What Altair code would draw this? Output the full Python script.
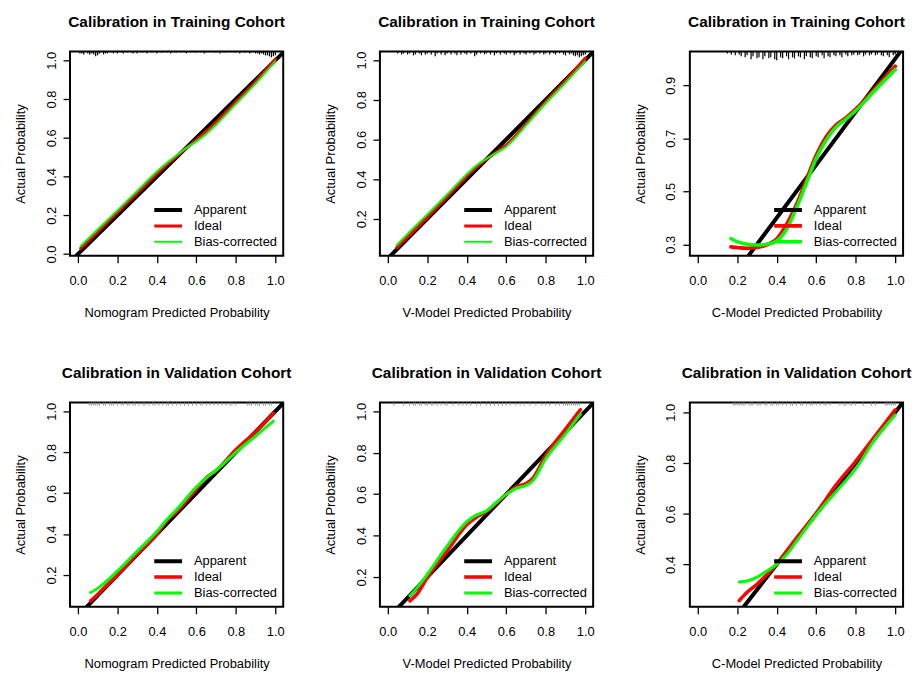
import altair as alt
import pandas as pd

FONT = "Liberation Sans"

# ---------------- data ----------------
SERIES = ["Apparent", "Ideal", "Bias-corrected"]
COLORS = ["#000000", "#FF0000", "#00FF00"]

titles = ["Calibration in Training Cohort"] * 3 + ["Calibration in Validation Cohort"] * 3
x_titles = ["Nomogram Predicted Probability", "V-Model Predicted Probability", "C-Model Predicted Probability"] * 2

# panel 1: training, nomogram
x1 = [0.014, 0.1, 0.2, 0.3, 0.4, 0.45, 0.5, 0.55, 0.6, 0.65, 0.7, 0.8, 0.9, 1.0]
red1 = [0.030, 0.115, 0.215, 0.315, 0.415, 0.462, 0.505, 0.548, 0.59, 0.633, 0.68, 0.785, 0.89, 1.005]
grn1 = [0.042, 0.127, 0.226, 0.326, 0.426, 0.47, 0.51, 0.548, 0.582, 0.62, 0.668, 0.774, 0.88, 0.995]

# panel 2: training, V-model
x2 = [0.045, 0.1, 0.2, 0.3, 0.4, 0.45, 0.5, 0.55, 0.6, 0.65, 0.7, 0.8, 0.9, 1.0]
red2 = [0.055, 0.108, 0.208, 0.31, 0.415, 0.462, 0.5, 0.535, 0.572, 0.622, 0.678, 0.79, 0.895, 1.01]
grn2 = [0.068, 0.124, 0.222, 0.322, 0.425, 0.47, 0.503, 0.532, 0.563, 0.613, 0.67, 0.782, 0.885, 0.993]

# panel 3: training, C-model
x3 = [0.168, 0.2, 0.25, 0.3, 0.35, 0.4, 0.45, 0.5, 0.55, 0.6, 0.65, 0.7, 0.75, 0.8, 0.9, 1.0]
red3 = [0.29, 0.288, 0.285, 0.288, 0.298, 0.32, 0.375, 0.45, 0.543, 0.636, 0.705, 0.75, 0.777, 0.81, 0.89, 0.972]
grn3 = [0.322, 0.31, 0.30, 0.297, 0.30, 0.313, 0.356, 0.437, 0.53, 0.624, 0.692, 0.742, 0.772, 0.804, 0.883, 0.96]

# panel 4: validation, nomogram
x4 = [0.065, 0.1, 0.2, 0.3, 0.4, 0.45, 0.5, 0.6, 0.65, 0.7, 0.8, 0.9, 0.99]
red4 = [0.074, 0.105, 0.2, 0.303, 0.40, 0.465, 0.509, 0.62, 0.675, 0.71, 0.812, 0.9, 0.99]
grn4 = [0.115, 0.135, 0.219, 0.316, 0.413, 0.47, 0.52, 0.63, 0.675, 0.712, 0.799, 0.879, 0.952]

# panel 5: validation, V-model
x5 = [0.112, 0.15, 0.2, 0.3, 0.4, 0.45, 0.5, 0.55, 0.6, 0.65, 0.7, 0.73, 0.8, 0.9, 0.975]
red5 = [0.085, 0.12, 0.197, 0.325, 0.452, 0.49, 0.516, 0.556, 0.599, 0.636, 0.652, 0.672, 0.787, 0.915, 1.008]
grn5 = [0.109, 0.15, 0.213, 0.349, 0.468, 0.5, 0.52, 0.561, 0.599, 0.628, 0.642, 0.66, 0.771, 0.891, 0.987]

# panel 6: validation, C-model
x6 = [0.21, 0.25, 0.3, 0.35, 0.4, 0.45, 0.5, 0.6, 0.7, 0.8, 0.9, 1.0]
red6 = [0.257, 0.29, 0.322, 0.36, 0.40, 0.452, 0.504, 0.602, 0.713, 0.807, 0.909, 1.01]
grn6 = [0.331, 0.335, 0.35, 0.374, 0.40, 0.439, 0.491, 0.596, 0.687, 0.778, 0.896, 0.99]

# rug (distribution of predicted probabilities) along the top; heights = relative frequency
rug1_x = [0.01, 0.02, 0.03, 0.05, 0.06, 0.07, 0.08, 0.09, 0.10, 0.11, 0.13, 0.14, 0.15, 0.17, 0.18, 0.20, 0.22,
          0.23, 0.25, 0.27, 0.28, 0.30, 0.32, 0.33, 0.35, 0.37, 0.38, 0.40, 0.42, 0.43, 0.45, 0.47, 0.49, 0.50,
          0.52, 0.54, 0.55, 0.57, 0.59, 0.60, 0.62, 0.64, 0.65, 0.67, 0.69, 0.70, 0.72, 0.74, 0.75, 0.77, 0.79,
          0.80, 0.82, 0.84, 0.85, 0.87, 0.88, 0.90, 0.91, 0.92, 0.93, 0.94, 0.95, 0.96, 0.97, 0.98, 0.99, 1.00]
rug1_h = [2, 2, 3, 2, 3, 2, 3, 5, 4, 2, 3, 2, 2, 1, 2, 2, 1, 2, 1, 1, 2, 2, 1, 1, 2, 1, 1, 2, 1, 1,
          1, 2, 1, 1, 1, 1, 2, 1, 1, 1, 1, 2, 1, 1, 1, 1, 2, 1, 1, 1, 1, 1, 2, 1, 1, 2, 1, 2, 2, 3,
          2, 3, 4, 4, 5, 6, 5, 4]
rug2_x = [0.05, 0.07, 0.08, 0.10, 0.11, 0.13, 0.14, 0.16, 0.17, 0.19, 0.20, 0.22, 0.24, 0.25, 0.27, 0.29, 0.30,
          0.32, 0.34, 0.35, 0.37, 0.39, 0.40, 0.42, 0.44, 0.45, 0.47, 0.49, 0.50, 0.52, 0.54, 0.55, 0.57, 0.59,
          0.60, 0.62, 0.64, 0.65, 0.67, 0.69, 0.70, 0.72, 0.74, 0.75, 0.77, 0.79, 0.80, 0.82, 0.84, 0.85, 0.87,
          0.89, 0.90, 0.92, 0.93, 0.94, 0.95, 0.96, 0.97, 0.98, 0.99, 1.00]
rug2_h = [2, 3, 2, 3, 2, 4, 3, 2, 4, 3, 2, 3, 5, 2, 3, 4, 2, 3, 2, 4, 3, 2, 3, 2, 5, 3, 2, 3, 2, 3,
          4, 2, 3, 2, 3, 2, 4, 2, 3, 2, 3, 2, 3, 2, 2, 3, 2, 3, 2, 3, 2, 3, 4, 3, 2, 4, 5, 4, 6, 5,
          4, 3]
rug3_x = [0.15, 0.17, 0.19, 0.21, 0.22, 0.24, 0.25, 0.27, 0.28, 0.30, 0.31, 0.33, 0.34, 0.36, 0.37, 0.39, 0.40,
          0.42, 0.43, 0.45, 0.46, 0.48, 0.49, 0.51, 0.52, 0.54, 0.55, 0.57, 0.58, 0.60, 0.61, 0.63, 0.64, 0.66,
          0.67, 0.69, 0.70, 0.72, 0.73, 0.75, 0.76, 0.78, 0.79, 0.81, 0.82, 0.84, 0.85, 0.87, 0.88, 0.90, 0.91,
          0.93, 0.94, 0.96, 0.97, 0.99, 1.00]
rug3_h = [2, 3, 4, 3, 5, 6, 4, 8, 5, 7, 6, 8, 5, 7, 6, 8, 9, 6, 7, 5, 8, 6, 7, 5, 6, 8, 5, 6, 7, 5,
          6, 4, 7, 5, 6, 4, 5, 4, 6, 3, 5, 4, 3, 4, 3, 5, 3, 4, 3, 4, 3, 4, 5, 4, 6, 4, 3]
rug4_x = [0.06, 0.07, 0.08, 0.09, 0.10, 0.11, 0.13, 0.14, 0.16, 0.17, 0.18, 0.20, 0.22, 0.23, 0.25, 0.26, 0.28,
          0.29, 0.31, 0.33, 0.34, 0.36, 0.38, 0.39, 0.41, 0.43, 0.45, 0.46, 0.48, 0.50, 0.52, 0.54, 0.56, 0.58,
          0.60, 0.62, 0.63, 0.65, 0.67, 0.69, 0.71, 0.73, 0.75, 0.77, 0.78, 0.80, 0.86, 0.87, 0.88, 0.90, 0.91,
          0.92, 0.94, 0.95, 0.97, 0.98]
rug5_x = [0.03, 0.08, 0.11, 0.13, 0.14, 0.16, 0.17, 0.19, 0.20, 0.22, 0.23, 0.25, 0.27, 0.29, 0.30, 0.33, 0.36,
          0.38, 0.40, 0.42, 0.45, 0.47, 0.50, 0.52, 0.54, 0.56, 0.58, 0.60, 0.62, 0.65, 0.67, 0.69, 0.72, 0.75,
          0.78, 0.80, 0.82, 0.85, 0.87, 0.89, 0.90, 0.91, 0.92, 0.93, 0.94, 0.95, 0.96, 0.97]
rug6_x = [0.18, 0.19, 0.20, 0.21, 0.22, 0.23, 0.24, 0.26, 0.27, 0.28, 0.30, 0.31, 0.32, 0.34, 0.35, 0.37, 0.38,
          0.40, 0.41, 0.43, 0.45, 0.47, 0.48, 0.50, 0.52, 0.53, 0.55, 0.57, 0.58, 0.60, 0.62, 0.64, 0.65, 0.67,
          0.72, 0.74, 0.75, 0.77, 0.78, 0.80, 0.84, 0.88, 0.90, 0.95, 0.96, 0.97, 0.98, 0.99, 1.00]

# y-axis domains and ticks of each panel
y_domains = [[-0.008, 1.046], [0.014, 1.043], [0.257, 1.028], [0.045, 1.043], [0.056, 1.043], [0.233, 1.039]]
y_ticks = [
    [0.0, 0.2, 0.4, 0.6, 0.8, 1.0],
    [0.2, 0.4, 0.6, 0.8, 1.0],
    [0.3, 0.4, 0.5, 0.6, 0.7, 0.8, 0.9, 1.0],
    [0.2, 0.4, 0.6, 0.8, 1.0],
    [0.2, 0.4, 0.6, 0.8, 1.0],
    [0.4, 0.6, 0.8, 1.0],
]
x_ticks = [0.0, 0.2, 0.4, 0.6, 0.8, 1.0]
X_DOMAIN = [-0.04, 1.04]

# ---------------- styling ----------------
PW, PH = 215, 206
red_widths = [2, 2, 3.5, 3, 3, 3]
RUG_PX_PER_UNIT = 1.0      # rug tick length in pixels per frequency unit
VALID_RUG_LEN = 3          # gray validation rug tick length (px)


def make_panel(i, xs, red, grn, rug_x, rug_h, training):
    legend = alt.Legend(
        title=None, orient="bottom-right", offset=6, padding=0,
        symbolType="stroke", symbolSize=784, clipHeight=16, rowPadding=0,
        labelOffset=10, labelFont=FONT, labelFontSize=13, labelColor="black",
    )
    ydom = y_domains[i]
    xenc = alt.X(
        "x:Q",
        scale=alt.Scale(domain=X_DOMAIN, nice=False, zero=False),
        axis=alt.Axis(values=x_ticks, format=".1f", title=x_titles[i]),
    )
    yaxis_kwargs = dict(values=y_ticks[i], format=".1f", title="Actual Probability")
    if i == 2:
        yaxis_kwargs["labelExpr"] = "(round(datum.value*10) % 2 == 1) ? datum.label : ''"
    yscale = alt.Scale(domain=ydom, nice=False, zero=False)
    yenc = alt.Y("y:Q", scale=yscale, axis=alt.Axis(**yaxis_kwargs))
    color = alt.Color("series:N", scale=alt.Scale(domain=SERIES, range=COLORS), legend=legend)
    width = alt.StrokeWidth(
        "series:N", scale=alt.Scale(domain=SERIES, range=[4, red_widths[i], 3.5]), legend=legend
    )

    # ideal y = x line across the visible square of the panel
    lo = max(X_DOMAIN[0], ydom[0])
    hi = min(X_DOMAIN[1], ydom[1])
    diag_df = pd.DataFrame({"x": [lo, hi], "y": [lo, hi], "series": "Apparent"})
    red_df = pd.DataFrame({"x": xs, "y": red, "series": "Ideal"})
    grn_df = pd.DataFrame({"x": xs, "y": grn, "series": "Bias-corrected"})

    def line(df):
        return alt.Chart(df).mark_line(clip=True, interpolate="monotone", strokeCap="round").encode(
            x=xenc, y=yenc, color=color, strokeWidth=width
        )

    # rug hangs down from the top edge of the frame
    unit = (ydom[1] - ydom[0]) / PH
    if training:
        rug_df = pd.DataFrame(list(zip(rug_x, rug_h)), columns=["x", "h"])
        rug_df["y_top"] = ydom[1]
        rug_df["y_bot"] = ydom[1] - rug_df["h"] * RUG_PX_PER_UNIT * unit
        rug_color, rug_w = "black", 1.2
    else:
        rug_df = pd.DataFrame({"x": rug_x})
        rug_df["y_top"] = ydom[1]
        rug_df["y_bot"] = ydom[1] - VALID_RUG_LEN * unit
        rug_color, rug_w = "#8c8c8c", 1
    rug = alt.Chart(rug_df).mark_rule(color=rug_color, strokeWidth=rug_w).encode(
        x=alt.X("x:Q", scale=alt.Scale(domain=X_DOMAIN, nice=False, zero=False)),
        y=alt.Y("y_top:Q", scale=yscale),
        y2="y_bot:Q",
    )

    return alt.layer(line(diag_df), line(red_df), line(grn_df), rug).properties(
        width=PW, height=PH, title=alt.TitleParams(text=titles[i])
    )


panels = [
    make_panel(0, x1, red1, grn1, rug1_x, rug1_h, True),
    make_panel(1, x2, red2, grn2, rug2_x, rug2_h, True),
    make_panel(2, x3, red3, grn3, rug3_x, rug3_h, True),
    make_panel(3, x4, red4, grn4, rug4_x, None, False),
    make_panel(4, x5, red5, grn5, rug5_x, None, False),
    make_panel(5, x6, red6, grn6, rug6_x, None, False),
]

chart = (
    alt.concat(*panels, columns=3, spacing={"row": 148, "column": 97.5}, bounds="flush")
    .resolve_scale(color="independent", strokeWidth="independent")
    .resolve_legend(color="independent", strokeWidth="independent")
    .configure(background="white", padding={"left": 4.5, "top": 2, "right": 0, "bottom": 0})
    .configure_view(stroke="black", strokeWidth=2)
    .configure_axis(
        grid=False, domain=False, ticks=True, tickColor="black", tickSize=7, tickWidth=1.3,
        labelColor="black", labelFont=FONT, labelFontSize=13, labelOverlap=False, labelFlush=False,
        titleFont=FONT, titleFontSize=13, titleFontWeight="normal", titleColor="black",
    )
    .configure_axisX(labelPadding=12, titlePadding=19)
    .configure_axisY(labelAngle=270, labelAlign="center", labelBaseline="alphabetic", labelPadding=8, titlePadding=18)
    .configure_title(font=FONT, fontSize=15.5, fontWeight="bold", color="black", anchor="middle", frame="group", offset=21)
)

chart.save("out.html", embed_options={"renderer": "svg", "actions": False})
